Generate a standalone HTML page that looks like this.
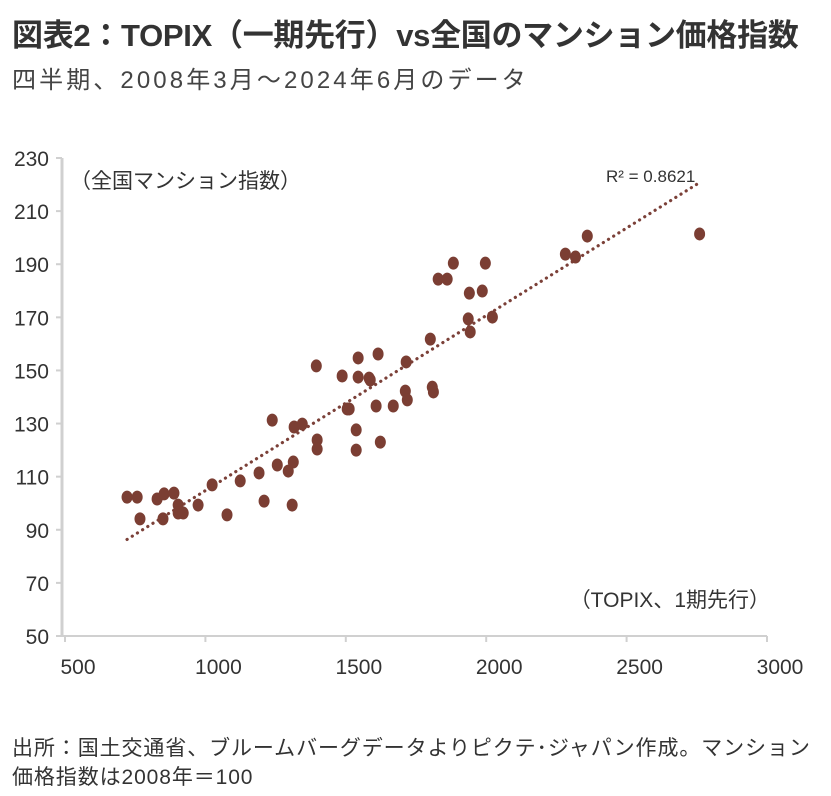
<!DOCTYPE html>
<html><head><meta charset="utf-8">
<style>
body{margin:0;width:831px;height:796px;background:#fff;overflow:hidden;font-family:"Liberation Sans","Noto Sans CJK JP",sans-serif;color:#333}
#title{position:absolute;left:12px;top:10px;font-size:31px;font-weight:bold;color:#333;letter-spacing:-0.3px;white-space:nowrap}
#sub{position:absolute;left:12px;top:60px;font-size:24px;color:#444;white-space:nowrap;letter-spacing:3.1px}
#foot{position:absolute;left:12px;top:734px;font-size:21px;color:#333;line-height:29px;white-space:nowrap;letter-spacing:0.9px}
svg{position:absolute;left:0;top:0}
</style></head><body>
<div id="title">図表2：TOPIX（一期先行）vs全国のマンション価格指数</div>
<div id="sub">四半期、2008年3月～2024年6月のデータ</div>
<svg id="chart" width="831" height="796"></svg>
<div id="foot">出所：国土交通省、ブルームバーグデータよりピクテ･ジャパン作成。マンション<br>価格指数は2008年＝100</div>
<script>
const xTicks=[500,1000,1500,2000,2500,3000];
const yTicks=[50,70,90,110,130,150,170,190,210,230];
const topixValues=[721,757,767,828,853,888,903,903,921,849,974,1024,1077,1124,1191,1209,1238,1256,1295,1313,1309,1316,1345,1395,1398,1398,1487,1505,1512,1537,1537,1544,1544,1583,1587,1608,1615,1623,1669,1715,1712,1719,1808,1812,1801,1829,1861,1883,1940,1986,1997,1936,1943,2022,2282,2318,2360,2760];
const condoIndex=[102.3,102.3,94.1,101.6,103.5,103.8,99.3,96.3,96.3,94.1,99.3,106.9,95.6,108.4,111.4,100.8,131.3,114.4,112.1,115.5,99.3,128.7,129.8,151.7,123.8,120.4,147.9,135.5,135.5,127.6,120.0,147.5,154.7,147.1,146.4,136.6,156.2,123.0,136.6,153.2,142.2,138.9,143.7,141.9,161.8,184.4,184.4,190.4,179.1,179.9,190.4,169.4,164.5,170.1,193.8,192.7,200.6,201.4];
const r2Label="R² = 0.8621";

const NS="http://www.w3.org/2000/svg";
const svg=document.getElementById('chart');
const L=65,R=767,T=158,B=636;
const sx=v=>L+(v-500)/(3000-500)*(R-L);
const sy=v=>B-(v-50)/(230-50)*(B-T);
function mk(tag,attrs,parent){const e=document.createElementNS(NS,tag);for(const k in attrs)e.setAttribute(k,attrs[k]);(parent||svg).appendChild(e);return e;}

const ya=mk('line',{x1:L-3,y1:T,x2:L-3,y2:B,stroke:'#d0d0d0','stroke-width':3});


const xa=mk('line',{x1:L-3,y1:B,x2:R,y2:B,stroke:'#d0d0d0','stroke-width':2});


yTicks.forEach(v=>{
  const tk=mk('line',{x1:L-9,y1:sy(v),x2:L-3,y2:sy(v),stroke:'#d0d0d0','stroke-width':2});
  
  
  const t=mk('text',{x:L-16,y:sy(v)+8,'text-anchor':'end','font-size':21,fill:'#333'});
  t.textContent=v;
  
  
});
xTicks.forEach(v=>{
  const tk=mk('line',{x1:sx(v),y1:B,x2:sx(v),y2:B+6,stroke:'#d0d0d0','stroke-width':2});
  
  
  const t=mk('text',{x:sx(v)+13,y:B+38,'text-anchor':'middle','font-size':21,fill:'#333'});
  t.textContent=v;
  
  
});

const n=topixValues.length;
let mx=0,my=0;for(let i=0;i<n;i++){mx+=topixValues[i];my+=condoIndex[i];}mx/=n;my/=n;
let sxy=0,sxx=0;for(let i=0;i<n;i++){sxy+=(topixValues[i]-mx)*(condoIndex[i]-my);sxx+=(topixValues[i]-mx)**2;}
const slope=sxy/sxx,icpt=my-slope*mx;
const xmin=Math.min(...topixValues),xmax=Math.max(...topixValues);
const tl=mk('line',{x1:sx(xmin),y1:sy(icpt+slope*xmin),x2:sx(xmax),y2:sy(icpt+slope*xmax),stroke:'#7b4038','stroke-width':3.2,'stroke-dasharray':'0.1 6','stroke-linecap':'round'});



for(let i=0;i<n;i++){
  const c=mk('ellipse',{cx:sx(topixValues[i]),cy:sy(condoIndex[i]),rx:5.5,ry:6.5,fill:'#7b3e33'});
  
  
}

function label(txt,x,y,size,name,anchor){const t=mk('text',{x:x,y:y,'font-size':size,fill:'#333','text-anchor':anchor||'start'});t.textContent=txt;return t;}
label(r2Label,606,182,17,'r-squared-label');
label('（全国マンション指数）',70,188,21,'y-axis-title');
label('（TOPIX、1期先行）',770,607,21,'x-axis-title','end');
</script>
</body></html>
